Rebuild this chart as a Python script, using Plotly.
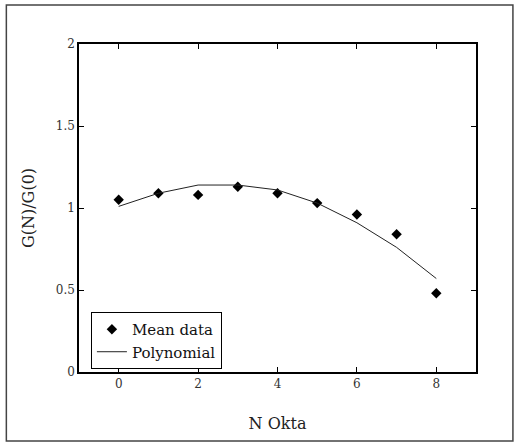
import plotly.graph_objects as go

# Cloud cover in okta and normalised values
okta = [0, 1, 2, 3, 4, 5, 6, 7, 8]
mean_data = [1.05, 1.09, 1.08, 1.13, 1.09, 1.03, 0.96, 0.84, 0.48]
polynomial = [1.01, 1.09, 1.14, 1.14, 1.11, 1.03, 0.91, 0.76, 0.57]

x_ticks = [0, 2, 4, 6, 8]
y_ticks = [0, 0.5, 1, 1.5, 2]
y_tick_text = ["0", "0.5", "1", "1.5", "2"]

SERIF = "DejaVu Serif"

fig = go.Figure()
fig.add_trace(go.Scatter(
    x=okta, y=mean_data, mode="markers", name="Mean data",
    marker=dict(symbol="diamond", size=8, color="black"),
))
fig.add_trace(go.Scatter(
    x=okta, y=polynomial, mode="lines", name="Polynomial",
    line=dict(color="#222222", width=1),
))

axis_common = dict(
    showgrid=False, zeroline=False, showline=True, mirror="ticks",
    linecolor="black", linewidth=1.5, ticks="inside", ticklen=5,
    tickcolor="black", tickwidth=1,
    tickfont=dict(family=SERIF, size=12, color="#333333"),
)

fig.update_layout(
    width=518, height=444,
    margin=dict(l=79, r=42, t=44, b=72),
    paper_bgcolor="white", plot_bgcolor="white",
    font=dict(family=SERIF, color="#222222"),
    xaxis=dict(
        range=[-1, 9], tickvals=x_ticks,
        title=dict(text="N Okta", font=dict(family=SERIF, size=16, color="#222222"), standoff=28),
        **axis_common,
    ),
    yaxis=dict(
        range=[0, 2], tickvals=y_ticks, ticktext=y_tick_text,
        title=dict(text="G(N)/G(0)", font=dict(family=SERIF, size=16, color="#222222"), standoff=17),
        **axis_common,
    ),
    legend=dict(
        x=0.03, y=0.183, xanchor="left", yanchor="top",
        bgcolor="white", bordercolor="black", borderwidth=1,
        font=dict(family=SERIF, size=15, color="#111111"),
        tracegroupgap=0,
    ),
    showlegend=True,
)

# Outer frame around the whole figure
fig.add_shape(
    type="rect", xref="paper", yref="paper",
    x0=-0.183, x1=1.093, y0=-0.21, y1=1.119,
    line=dict(color="#444444", width=1.5), layer="below",
)

fig.write_html("out.html")
